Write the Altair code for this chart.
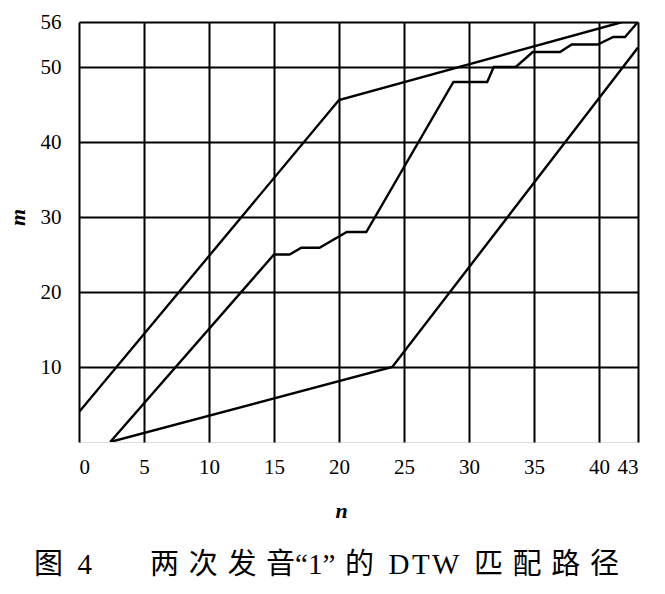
import pandas as pd
import altair as alt

# upper boundary of the search window
upper_n = [0, 20, 41.8, 43]
upper_m = [4, 45.6, 56, 56]

# lower boundary of the search window
lower_n = [2.4, 24.1, 43]
lower_m = [0, 10, 52.6]

# DTW matching path
path_n = [2.4, 15, 16.2, 17.1, 18.5, 20.6, 22.1, 28.8, 31.4, 31.9, 33.6,
          34.9, 37, 37.9, 39.9, 41.1, 42, 43]
path_m = [0, 25, 25, 25.9, 25.9, 28, 28, 48, 48, 50, 50,
          52, 52, 53, 53, 54, 54, 56]

x_ticks = [0, 5, 10, 15, 20, 25, 30, 35, 40, 43]
y_ticks = [10, 20, 30, 40, 50, 56]

rows = []
for name, ns, ms in [("upper", upper_n, upper_m),
                     ("lower", lower_n, lower_m),
                     ("path", path_n, path_m)]:
    for i, (n, m) in enumerate(zip(ns, ms)):
        rows.append({"series": name, "order": i, "n": n, "m": m})
df = pd.DataFrame(rows)

serif = "Liberation Serif"

axis_style = dict(
    grid=True, gridColor="black", gridWidth=2, gridOpacity=1,
    domain=False, ticks=False,
    labelFont=serif, labelFontSize=21, labelColor="black",
    titleFont=serif, titleFontSize=22, titleColor="black",
    titleFontStyle="italic", titleFontWeight="bold",
)

# caption, spaced out like the printed figure
sp = "\u2004"
caption = ("图\u20024\u2003\u2003"
           + sp.join("两次发") + sp + "音“1”" + sp + "的\u2002D\u200aT\u200aW\u2002"
           + sp.join("匹配路径"))

chart = alt.Chart(df).mark_line(color="black", strokeWidth=2.4, clip=True).encode(
    x=alt.X("n:Q",
            scale=alt.Scale(domain=[0, 43], nice=False, zero=False),
            axis=alt.Axis(values=x_ticks, title="n", titleX=262, titleY=58,
                          labelPadding=14, labelAngle=0, **axis_style)),
    y=alt.Y("m:Q",
            scale=alt.Scale(domain=[0, 56], nice=False, zero=False),
            axis=alt.Axis(values=y_ticks, title="m", titleX=-50, titleY=195,
                          titleAngle=270, labelPadding=18, **axis_style)),
    detail="series:N",
    order="order:Q",
).properties(
    width=559,
    height=420,
    autosize=alt.AutoSizeParams(type="none"),
    padding={"left": 71, "top": 14, "right": 19, "bottom": 144},
    title=alt.TitleParams(
        caption,
        orient="bottom", anchor="middle", offset=30, dx=-32,
        font="Liberation Serif, Noto Sans CJK SC", fontSize=29,
        fontWeight="normal", color="black",
    ),
).configure_view(
    stroke="black", strokeWidth=2.5,
).configure(background="white")

chart.save("out.html", embed_options={"renderer": "svg", "actions": False})
